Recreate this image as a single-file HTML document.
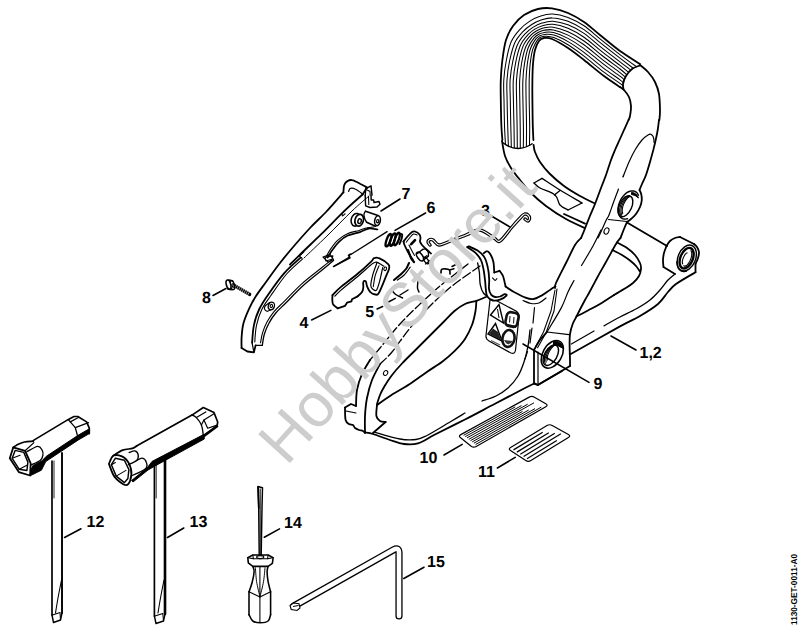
<!DOCTYPE html>
<html><head><meta charset="utf-8"><title>Parts diagram</title>
<style>
html,body{margin:0;padding:0;background:#fff;}
body{width:800px;height:630px;overflow:hidden;font-family:"Liberation Sans",sans-serif;}
svg{display:block;}
svg text{font-family:"Liberation Sans",sans-serif;fill:#000;text-rendering:geometricPrecision;}
</style></head><body>
<svg width="800" height="630" viewBox="0 0 800 630">
<rect x="0" y="0" width="800" height="630" fill="#fff"/>
<path d="M 502.4 140.0 C 502.2 137.7 501.7 132.7 501.4 126.0 C 501.1 119.3 500.9 107.7 500.8 100.0 C 500.7 92.3 500.5 86.7 500.8 80.0 C 501.1 73.3 501.5 66.7 502.4 60.0 C 503.3 53.3 504.2 45.7 506.0 40.0 C 507.8 34.3 510.0 30.2 513.0 26.0 C 516.0 21.8 519.8 17.8 524.0 15.0 C 528.2 12.2 533.3 10.1 538.0 9.0 C 542.7 7.9 547.0 7.7 552.0 8.4 C 557.0 9.1 562.7 10.7 568.0 13.0 C 573.3 15.3 578.7 18.3 584.0 22.0 C 589.3 25.7 594.0 30.2 600.0 35.0 C 606.0 39.8 613.3 46.2 620.0 51.0 C 626.7 55.8 636.7 61.8 640.0 64.0" fill="none" stroke="#000" stroke-width="1.8" stroke-linecap="round" stroke-linejoin="round" />
<path d="M 640.0 65.0 C 641.3 66.2 645.5 69.2 648.0 72.0 C 650.5 74.8 653.2 78.3 655.0 82.0 C 656.8 85.7 658.2 89.3 659.0 94.0 C 659.8 98.7 659.9 105.7 660.0 110.0 C 660.1 114.3 659.5 118.3 659.4 120.0" fill="none" stroke="#000" stroke-width="1.8" stroke-linecap="round" stroke-linejoin="round" />
<path d="M 533.4 140.0 C 533.3 137.7 533.0 132.7 532.8 126.0 C 532.6 119.3 532.5 107.7 532.4 100.0 C 532.3 92.3 532.3 86.0 532.4 80.0 C 532.5 74.0 532.6 69.0 533.0 64.0 C 533.4 59.0 534.0 53.8 535.0 50.0 C 536.0 46.2 537.5 43.0 539.0 41.0 C 540.5 39.0 541.8 38.3 544.0 38.0 C 546.2 37.7 548.0 37.3 552.0 39.0 C 556.0 40.7 562.7 44.5 568.0 48.0 C 573.3 51.5 578.0 55.3 584.0 60.0 C 590.0 64.7 598.0 71.5 604.0 76.0 C 610.0 80.5 617.3 85.2 620.0 87.0" fill="none" stroke="#000" stroke-width="1.8" stroke-linecap="round" stroke-linejoin="round" />
<path d="M 620.0 87.0 C 620.7 87.5 622.5 88.3 624.0 90.0 C 625.5 91.7 627.8 94.3 629.0 97.0 C 630.2 99.7 630.8 102.8 631.0 106.0 C 631.2 109.2 630.4 113.7 630.0 116.0 C 629.6 118.3 628.8 119.3 628.6 120.0" fill="none" stroke="#000" stroke-width="1.8" stroke-linecap="round" stroke-linejoin="round" />
<path d="M 640.0 65.4 C 638.7 66.0 634.3 67.2 632.0 69.0 C 629.7 70.8 627.5 73.5 626.0 76.0 C 624.5 78.5 623.4 81.7 623.0 84.0 C 622.6 86.3 623.5 88.7 623.6 89.6" fill="none" stroke="#000" stroke-width="1.8" stroke-linecap="round" stroke-linejoin="round" />
<path d="M 502.6 142.5 Q 517 154 532.6 143.5" fill="none" stroke="#000" stroke-width="1.5"/>
<path d="M 505.5 144.6 C 505.3 141.5 504.8 133.4 504.5 126.0 C 504.3 118.6 504.1 107.7 504.0 100.0 C 503.8 92.3 503.4 86.6 503.8 80.0 C 504.2 73.4 505.0 66.9 506.3 60.5 C 507.5 54.1 508.9 46.9 511.2 41.8 C 513.4 36.7 516.5 33.1 519.5 29.8 C 522.5 26.4 525.7 23.8 529.1 21.6 C 532.5 19.3 536.1 17.5 540.0 16.3 C 543.9 15.0 547.7 13.8 552.4 14.0 C 557.0 14.2 562.7 15.4 568.0 17.4 C 573.3 19.4 578.6 22.2 584.0 25.8 C 589.4 29.4 594.4 34.3 600.4 39.1 C 606.4 43.9 614.0 50.0 620.0 54.6 C 626.0 59.2 633.8 64.8 636.6 66.8" fill="none" stroke="#000" stroke-width="1.05"/>
<path d="M 508.4 146.2 C 508.3 142.9 507.9 133.7 507.7 126.0 C 507.5 118.3 507.2 107.7 507.1 100.0 C 507.0 92.3 506.5 86.5 507.0 80.0 C 507.4 73.5 508.3 67.1 509.6 60.9 C 510.9 54.8 512.5 47.9 514.7 43.0 C 516.9 38.1 520.1 34.8 522.9 31.7 C 525.7 28.7 528.4 26.6 531.4 24.7 C 534.5 22.7 537.5 21.2 541.0 20.0 C 544.6 18.9 548.1 17.7 552.6 17.9 C 557.1 18.0 562.8 19.3 568.0 21.2 C 573.2 23.2 578.5 25.9 584.0 29.6 C 589.5 33.3 594.8 38.4 600.8 43.2 C 606.8 48.0 614.5 54.0 620.0 58.2 C 625.5 62.4 631.3 66.8 633.6 68.5" fill="none" stroke="#000" stroke-width="1.05"/>
<path d="M 511.3 147.4 C 511.3 143.8 511.0 133.9 510.8 126.0 C 510.6 118.1 510.4 107.7 510.3 100.0 C 510.2 92.3 509.7 86.4 510.1 80.0 C 510.6 73.6 511.5 67.3 512.8 61.4 C 514.0 55.4 515.6 48.7 517.8 44.1 C 519.9 39.4 523.0 36.1 525.6 33.3 C 528.2 30.5 530.6 28.8 533.3 27.1 C 536.0 25.4 538.6 24.1 541.9 23.1 C 545.1 22.1 548.5 20.9 552.8 21.2 C 557.2 21.5 562.8 22.8 568.0 24.8 C 573.2 26.9 578.5 29.7 584.0 33.4 C 589.5 37.1 595.2 42.6 601.2 47.3 C 607.2 52.0 615.0 58.0 620.0 61.8 C 625.0 65.6 629.1 68.9 631.0 70.3" fill="none" stroke="#000" stroke-width="1.05"/>
<path d="M 514.3 148.2 C 514.3 144.5 514.1 134.0 514.0 126.0 C 513.8 118.0 513.5 107.7 513.4 100.0 C 513.3 92.3 512.9 86.4 513.3 80.0 C 513.7 73.6 514.6 67.6 515.8 61.8 C 517.0 55.9 518.6 49.5 520.6 45.0 C 522.6 40.5 525.6 37.3 528.0 34.7 C 530.4 32.0 532.4 30.6 534.9 29.1 C 537.3 27.6 539.6 26.5 542.6 25.7 C 545.6 24.9 548.8 23.9 553.0 24.3 C 557.2 24.7 562.8 26.2 568.0 28.3 C 573.2 30.5 578.4 33.4 584.0 37.2 C 589.6 41.0 595.6 46.7 601.6 51.4 C 607.6 56.1 615.5 61.9 620.0 65.4 C 624.5 68.9 627.3 71.3 628.7 72.4" fill="none" stroke="#000" stroke-width="1.05"/>
<path d="M 517.3 148.5 C 517.3 144.8 517.2 134.1 517.1 126.0 C 517.0 117.9 516.7 107.7 516.6 100.0 C 516.5 92.3 516.1 86.3 516.5 80.0 C 516.9 73.7 517.7 67.8 518.8 62.1 C 519.9 56.5 521.4 50.3 523.2 45.9 C 525.1 41.6 528.0 38.4 530.2 35.9 C 532.3 33.4 534.1 32.3 536.3 31.0 C 538.5 29.7 540.5 28.8 543.3 28.1 C 546.1 27.5 549.1 26.6 553.2 27.2 C 557.3 27.8 562.9 29.5 568.0 31.8 C 573.1 34.1 578.3 37.0 584.0 41.0 C 589.7 45.0 596.0 50.8 602.0 55.5 C 608.0 60.2 615.9 65.8 620.0 69.0 C 624.1 72.2 625.8 73.8 626.9 74.8" fill="none" stroke="#000" stroke-width="1.05"/>
<path d="M 520.3 148.4 C 520.3 144.7 520.3 134.1 520.2 126.0 C 520.1 117.9 519.9 107.7 519.8 100.0 C 519.7 92.3 519.4 86.2 519.7 80.0 C 520.0 73.8 520.7 68.1 521.7 62.5 C 522.7 57.0 524.0 51.1 525.8 46.8 C 527.5 42.6 530.2 39.4 532.1 37.0 C 534.1 34.7 535.6 33.8 537.6 32.7 C 539.5 31.6 541.3 30.8 543.9 30.3 C 546.5 29.9 549.3 29.2 553.4 29.9 C 557.4 30.7 562.9 32.6 568.0 35.1 C 573.1 37.6 578.3 40.7 584.0 44.8 C 589.7 48.9 596.4 55.0 602.4 59.6 C 608.4 64.2 616.2 69.7 620.0 72.6 C 623.8 75.5 624.5 76.5 625.5 77.3" fill="none" stroke="#000" stroke-width="1.05"/>
<path d="M 523.3 147.8 C 523.4 144.2 523.5 134.0 523.4 126.0 C 523.3 118.0 523.0 107.7 522.9 100.0 C 522.8 92.3 522.6 86.2 522.9 80.0 C 523.1 73.8 523.7 68.3 524.6 62.9 C 525.5 57.5 526.6 51.8 528.2 47.7 C 529.8 43.5 532.2 40.3 534.0 38.1 C 535.8 35.9 537.0 35.2 538.8 34.2 C 540.5 33.3 542.0 32.7 544.5 32.4 C 546.9 32.1 549.6 31.6 553.5 32.6 C 557.5 33.6 562.9 35.7 568.0 38.4 C 573.1 41.1 578.2 44.4 584.0 48.6 C 589.8 52.8 596.8 59.1 602.8 63.7 C 608.8 68.3 616.4 73.5 620.0 76.2 C 623.6 78.9 623.7 79.4 624.4 80.0" fill="none" stroke="#000" stroke-width="1.05"/>
<path d="M 526.4 146.8 C 526.4 143.3 526.6 133.8 526.5 126.0 C 526.5 118.2 526.2 107.7 526.1 100.0 C 526.0 92.3 525.8 86.1 526.0 80.0 C 526.3 73.9 526.7 68.5 527.4 63.3 C 528.2 58.0 529.1 52.5 530.5 48.5 C 531.9 44.4 534.2 41.2 535.7 39.1 C 537.3 37.0 538.4 36.5 539.9 35.7 C 541.5 34.9 542.7 34.5 545.0 34.4 C 547.3 34.3 549.9 33.9 553.7 35.1 C 557.5 36.3 562.9 38.8 568.0 41.6 C 573.1 44.5 578.1 48.0 584.0 52.4 C 589.9 56.8 597.2 63.2 603.2 67.8 C 609.2 72.4 616.6 77.3 620.0 79.8 C 623.4 82.3 623.1 82.5 623.7 83.0" fill="none" stroke="#000" stroke-width="1.05"/>
<path d="M 529.5 145.4 C 529.5 142.2 529.7 133.6 529.7 126.0 C 529.6 118.4 529.3 107.7 529.2 100.0 C 529.2 92.3 529.1 86.1 529.2 80.0 C 529.4 73.9 529.6 68.8 530.2 63.6 C 530.8 58.5 531.6 53.2 532.8 49.2 C 534.0 45.3 536.0 42.1 537.4 40.1 C 538.8 38.1 539.6 37.7 541.0 37.1 C 542.3 36.4 543.4 36.1 545.5 36.2 C 547.7 36.3 550.1 36.2 553.8 37.6 C 557.6 39.0 563.0 41.7 568.0 44.8 C 573.0 47.9 578.1 51.7 584.0 56.2 C 589.9 60.7 597.6 67.4 603.6 71.9 C 609.6 76.4 616.7 81.0 620.0 83.4 C 623.3 85.8 622.9 85.7 623.5 86.2" fill="none" stroke="#000" stroke-width="1.05"/>
<path d="M 502.0 141.0 C 502.5 143.5 503.5 151.5 505.0 156.0 C 506.5 160.5 508.5 164.0 511.0 168.0 C 513.5 172.0 516.8 176.0 520.0 180.0 C 523.2 184.0 525.7 187.7 530.0 192.0 C 534.3 196.3 540.0 201.5 546.0 206.0 C 552.0 210.5 558.8 215.0 566.0 219.0 C 573.2 223.0 585.2 228.2 589.0 230.0" fill="none" stroke="#000" stroke-width="1.8" stroke-linecap="round" stroke-linejoin="round" />
<path d="M 533.6 145.0 C 533.8 146.2 533.9 149.2 535.0 152.0 C 536.1 154.8 537.5 158.3 540.0 162.0 C 542.5 165.7 546.0 170.0 550.0 174.0 C 554.0 178.0 559.0 182.3 564.0 186.0 C 569.0 189.7 574.3 192.8 580.0 196.0 C 585.7 199.2 595.0 203.5 598.0 205.0" fill="none" stroke="#000" stroke-width="1.8" stroke-linecap="round" stroke-linejoin="round" />
<path d="M 564.0 214.0 C 567.5 215.6 581.5 222.0 585.0 223.6" fill="none" stroke="#000" stroke-width="1.8" stroke-linecap="round" stroke-linejoin="round" />
<path d="M 542.0 178.4 C 545.0 180.3 553.3 185.9 560.0 190.0 C 566.7 194.1 578.3 200.8 582.0 203.0" fill="none" stroke="#000" stroke-width="1.32" stroke-linecap="round" stroke-linejoin="round" />
<path d="M 582.0 203.0 L 568.0 210.0" fill="none" stroke="#000" stroke-width="1.32" stroke-linecap="round" stroke-linejoin="round" />
<path d="M 568.0 210.0 C 566.7 209.2 562.2 207.5 560.0 205.0 C 557.8 202.5 558.3 197.8 555.0 195.0 C 551.7 192.2 543.5 190.0 540.0 188.0 C 536.5 186.0 535.0 183.8 534.0 183.0" fill="none" stroke="#000" stroke-width="1.32" stroke-linecap="round" stroke-linejoin="round" />
<path d="M 534.0 183.0 L 542.0 178.4" fill="none" stroke="#000" stroke-width="1.32" stroke-linecap="round" stroke-linejoin="round" />
<path d="M 560.0 190.4 L 554.4 195.0" fill="none" stroke="#000" stroke-width="1.32" stroke-linecap="round" stroke-linejoin="round" />
<path d="M 615 150 L 611 160 L 606 175 L 601 188 L 595 204 L 589.5 217 L 584 231 L 581 238 L 575 245 L 566 263 L 606 262 L 616 244 L 620.5 238 L 624 229 L 627 222 L 640 205 L 640 190 L 645 175 L 651.5 150 Z" fill="#fff" stroke="none"/>
<path d="M 659.0 120.0 C 658.8 121.7 658.2 126.7 657.7 130.0 C 657.2 133.3 656.4 136.7 655.7 140.0 C 655.0 143.3 654.2 146.3 653.3 150.0 C 652.3 153.7 651.2 157.8 650.0 162.0 C 648.8 166.2 647.3 171.3 646.0 175.0 C 644.7 178.7 643.1 181.5 642.0 184.0 C 640.9 186.5 639.9 189.0 639.5 190.0" fill="none" stroke="#000" stroke-width="1.8" stroke-linecap="round" stroke-linejoin="round" />
<path d="M 628.5 120.0 C 627.8 121.7 625.5 126.7 624.0 130.0 C 622.5 133.3 621.0 136.7 619.5 140.0 C 618.0 143.3 616.4 146.7 615.0 150.0 C 613.6 153.3 612.5 155.8 611.0 160.0 C 609.5 164.2 607.7 170.3 606.0 175.0 C 604.3 179.7 602.8 183.2 601.0 188.0 C 599.2 192.8 596.9 199.2 595.0 204.0 C 593.1 208.8 591.3 212.5 589.5 217.0 C 587.7 221.5 585.4 227.5 584.0 231.0 C 582.6 234.5 581.5 236.8 581.0 238.0" fill="none" stroke="#000" stroke-width="1.8" stroke-linecap="round" stroke-linejoin="round" />
<path d="M 623.0 177.0 C 624.0 174.5 627.0 166.5 629.0 162.0 C 631.0 157.5 632.8 153.7 635.0 150.0 C 637.2 146.3 639.8 142.5 642.0 140.0 C 644.2 137.5 646.5 135.9 648.0 135.0 C 649.5 134.1 650.2 134.1 651.0 134.3 C 651.8 134.5 652.3 135.2 652.8 136.0 C 653.3 136.8 653.6 137.9 653.8 139.0 C 654.0 140.1 654.0 141.9 654.1 142.5" fill="none" stroke="#000" stroke-width="1.2" stroke-linecap="round" stroke-linejoin="round" />
<path d="M 639.5 190.0 C 639.8 190.7 640.8 192.3 641.2 194.0 C 641.6 195.7 642.0 197.8 641.8 200.0 C 641.6 202.2 641.0 204.7 640.0 207.0 C 639.0 209.3 637.5 212.0 636.0 214.0 C 634.5 216.0 632.5 217.7 631.0 219.0 C 629.5 220.3 627.7 221.5 627.0 222.0" fill="none" stroke="#000" stroke-width="1.8" stroke-linecap="round" stroke-linejoin="round" />
<path d="M 627.0 222.0 C 626.5 223.2 625.1 226.3 624.0 229.0 C 622.9 231.7 621.1 236.5 620.5 238.0" fill="none" stroke="#000" stroke-width="1.8" stroke-linecap="round" stroke-linejoin="round" />
<path d="M 618.5 189.0 C 617.8 191.0 615.6 196.7 614.0 201.0 C 612.4 205.3 610.2 211.9 609.0 215.0 C 607.8 218.1 607.3 217.8 606.5 219.5 C 605.7 221.2 605.1 222.6 604.0 225.0 C 602.9 227.4 601.0 231.8 600.0 234.0 C 599.0 236.2 598.3 237.3 598.0 238.0" fill="none" stroke="#000" stroke-width="1.2" stroke-linecap="round" stroke-linejoin="round" />
<path d="M 623.5 175.0 L 623.2 176.5" fill="none" stroke="#000" stroke-width="1.2" stroke-linecap="round" stroke-linejoin="round" />
<path d="M 608.5 219.5 L 627.0 221.5" fill="none" stroke="#000" stroke-width="1.2" stroke-linecap="round" stroke-linejoin="round" />
<path d="M 627.51 218.78 L 625.69 219.15 L 623.95 219.09 L 622.36 218.59 L 620.96 217.69 L 619.80 216.40 L 618.91 214.77 L 618.31 212.83 L 618.03 210.66 L 618.07 208.32 L 618.44 205.88 L 619.12 203.41 L 620.09 200.99 L 621.32 198.69 L 622.78 196.58 L 624.41 194.73 L 626.18 193.19 L 628.02 192.01 L 629.89 191.22 L 631.71 190.85 L 633.45 190.91 L 635.04 191.41 L 636.44 192.31 L 637.60 193.60 L 638.49 195.23" fill="none" stroke="#000" stroke-width="1.44" stroke-linecap="round"/>
<ellipse cx="625.5" cy="206.2" rx="6.2" ry="11.2" transform="rotate(25 625.5 206.2)" fill="none" stroke="#000" stroke-width="1.44"/>
<path d="M 621.36 215.74 L 620.88 215.21 L 620.48 214.58 L 620.15 213.84 L 619.90 213.01 L 619.74 212.10 L 619.66 211.13 L 619.67 210.09 L 619.77 209.01 L 619.95 207.89 L 620.22 206.75 L 620.57 205.61 L 620.99 204.47 L 621.49 203.36 L 622.05 202.28 L 622.67 201.24 L 623.34 200.27 L 624.05 199.36 L 624.80 198.54 L 625.58 197.80 L 626.37 197.17 L 627.17 196.64 L 627.97 196.23 L 628.76 195.94 L 629.53 195.77" fill="none" stroke="#000" stroke-width="1.08" stroke-linecap="round"/>
<path d="M 621.93 214.84 L 621.61 214.24 L 621.36 213.57 L 621.16 212.84 L 621.03 212.04 L 620.96 211.19 L 620.96 210.30 L 621.02 209.37 L 621.15 208.41 L 621.35 207.44 L 621.60 206.45 L 621.92 205.46 L 622.29 204.47 L 622.72 203.51 L 623.19 202.56 L 623.71 201.65 L 624.27 200.78 L 624.87 199.96 L 625.50 199.19 L 626.16 198.48 L 626.83 197.85 L 627.51 197.29 L 628.21 196.81 L 628.90 196.41 L 629.59 196.10" fill="none" stroke="#000" stroke-width="1.08" stroke-linecap="round"/>
<path d="M 622.69 213.48 L 622.51 212.87 L 622.38 212.22 L 622.30 211.52 L 622.26 210.79 L 622.26 210.03 L 622.32 209.24 L 622.42 208.44 L 622.57 207.61 L 622.76 206.78 L 622.99 205.94 L 623.27 205.11 L 623.59 204.27 L 623.95 203.45 L 624.34 202.65 L 624.77 201.87 L 625.22 201.11 L 625.71 200.38 L 626.22 199.69 L 626.75 199.05 L 627.30 198.44 L 627.87 197.88 L 628.44 197.38 L 629.03 196.93 L 629.61 196.54" fill="none" stroke="#000" stroke-width="1.08" stroke-linecap="round"/>
<path d="M 631.5 192.5 Q 636.5 192.5 638.5 198 Q 635 194.5 631.5 194.5 Z" fill="#000" stroke="#000" stroke-width="1"/>
<ellipse cx="606.5" cy="231" rx="2.3" ry="3.3" transform="rotate(25 606.5 231)" fill="none" stroke="#000" stroke-width="1"/>
<path d="M 468.0 264.0 C 463.3 267.7 448.0 279.3 440.0 286.0 C 432.0 292.7 426.7 297.7 420.0 304.0 C 413.3 310.3 406.7 316.7 400.0 324.0 C 393.3 331.3 385.0 342.0 380.0 348.0 C 375.0 354.0 371.7 358.0 370.0 360.0" fill="none" stroke="#000" stroke-width="1.32" stroke-linecap="round" stroke-linejoin="round" stroke-dasharray="9 3"/>
<path d="M 370.0 360.0 C 368.7 362.3 364.2 369.0 362.0 374.0 C 359.8 379.0 358.0 384.7 357.0 390.0 C 356.0 395.3 356.2 403.3 356.0 406.0" fill="none" stroke="#000" stroke-width="1.8" stroke-linecap="round" stroke-linejoin="round" />
<path d="M 480.0 266.0 C 475.3 269.3 460.3 279.3 452.0 286.0 C 443.7 292.7 437.0 299.0 430.0 306.0 C 423.0 313.0 416.3 320.3 410.0 328.0 C 403.7 335.7 397.0 346.0 392.0 352.0 C 387.0 358.0 382.0 362.0 380.0 364.0" fill="none" stroke="#000" stroke-width="1.32" stroke-linecap="round" stroke-linejoin="round" stroke-dasharray="9 3"/>
<path d="M 380.0 364.0 C 378.7 366.7 374.2 374.3 372.0 380.0 C 369.8 385.7 368.2 392.0 367.0 398.0 C 365.8 404.0 365.3 410.3 365.0 416.0 C 364.7 421.7 365.0 429.3 365.0 432.0" fill="none" stroke="#000" stroke-width="1.8" stroke-linecap="round" stroke-linejoin="round" />
<path d="M 486.0 297.0 C 484.4 297.6 479.9 299.6 476.4 300.8 C 472.9 302.0 468.6 302.3 465.0 304.0 C 461.4 305.7 458.0 308.1 454.5 311.0 C 451.0 313.9 448.1 317.4 444.0 321.5 C 439.9 325.6 434.7 330.8 430.0 335.5 C 425.3 340.2 420.7 344.8 416.0 349.5 C 411.3 354.2 406.1 359.1 402.0 363.5 C 397.9 367.9 394.4 371.9 391.5 375.7 C 388.6 379.5 386.4 383.0 384.5 386.2 C 382.6 389.4 381.2 392.0 380.0 395.0 C 378.8 398.0 377.5 402.5 377.0 404.0" fill="none" stroke="#000" stroke-width="1.8" stroke-linecap="round" stroke-linejoin="round" />
<path d="M 476.4 300.8 C 476.2 302.5 476.2 307.0 475.5 311.0 C 474.8 315.0 473.8 320.3 472.0 325.0 C 470.2 329.7 467.9 334.6 465.0 339.0 C 462.1 343.4 458.3 347.4 454.5 351.2 C 450.7 355.0 446.9 358.2 442.2 361.7 C 437.5 365.2 432.0 368.4 426.5 372.2 C 421.0 376.0 414.8 380.7 409.0 384.5 C 403.2 388.3 396.8 391.6 391.5 395.0 C 386.2 398.4 379.4 403.3 377.0 405.0" fill="none" stroke="#000" stroke-width="1.8" stroke-linecap="round" stroke-linejoin="round" />
<path d="M 377.0 405.0 C 376.9 406.8 375.9 413.3 376.4 416.0 C 376.9 418.7 378.5 420.0 380.0 421.0 C 381.5 422.0 384.7 421.8 385.6 422.0" fill="none" stroke="#000" stroke-width="1.8" stroke-linecap="round" stroke-linejoin="round" />
<path d="M 385.6 422.0 L 373.0 433.0" fill="none" stroke="#000" stroke-width="1.8" stroke-linecap="round" stroke-linejoin="round" />
<path d="M 365.0 432.4 C 366.3 432.7 368.8 432.7 373.0 434.0 C 377.2 435.3 384.8 438.3 390.0 440.0 C 395.2 441.7 399.3 443.4 404.0 444.0 C 408.7 444.6 412.8 444.9 418.0 443.3 C 423.2 441.7 427.2 438.5 435.0 434.5 C 442.8 430.5 455.0 424.6 465.0 419.5 C 475.0 414.4 485.0 409.0 495.0 403.8 C 505.0 398.5 518.5 391.4 525.0 388.0 C 531.5 384.6 532.5 384.3 534.0 383.6" fill="none" stroke="#000" stroke-width="1.8" stroke-linecap="round" stroke-linejoin="round" />
<path d="M 534.0 383.6 L 537.6 385.0 L 562.0 371.0" fill="none" stroke="#000" stroke-width="1.8" stroke-linecap="round" stroke-linejoin="round" />
<path d="M 375.0 432.4 C 379.2 433.5 393.2 437.8 400.0 439.0 C 406.8 440.2 411.7 440.0 416.0 439.5 C 420.3 439.0 420.3 438.9 426.0 436.0 C 431.7 433.1 443.5 425.8 450.0 422.0 C 456.5 418.2 462.5 414.5 465.0 413.0" fill="none" stroke="#000" stroke-width="1.32" stroke-linecap="round" stroke-linejoin="round" />
<path d="M 482.0 401.0 C 484.3 400.2 491.7 398.2 496.0 396.0 C 500.3 393.8 504.3 391.3 508.0 388.0 C 511.7 384.7 515.3 380.3 518.0 376.0 C 520.7 371.7 522.3 367.0 524.0 362.0 C 525.7 357.0 527.0 351.3 528.0 346.0 C 529.0 340.7 529.7 332.7 530.0 330.0" fill="none" stroke="#000" stroke-width="1.32" stroke-linecap="round" stroke-linejoin="round" />
<path d="M 345.0 407.6 L 351.0 404.0 L 356.0 406.0" fill="none" stroke="#000" stroke-width="1.8" stroke-linecap="round" stroke-linejoin="round" />
<path d="M 346.0 411.0 L 356.0 413.0" fill="none" stroke="#000" stroke-width="1.2" stroke-linecap="round" stroke-linejoin="round" />
<path d="M 345.0 407.6 C 345.1 409.7 344.9 417.3 345.6 420.0 C 346.3 422.7 347.8 423.2 349.0 424.0 C 350.2 424.8 352.0 424.3 353.0 425.0 C 354.0 425.7 354.0 427.2 355.0 428.0 C 356.0 428.8 357.7 429.5 359.0 430.0 C 360.3 430.5 362.0 430.5 363.0 431.0 C 364.0 431.5 364.7 432.7 365.0 433.0" fill="none" stroke="#000" stroke-width="1.8" stroke-linecap="round" stroke-linejoin="round" />
<ellipse cx="385.6" cy="373" rx="2" ry="2.6" transform="rotate(30 385.6 373)" fill="none" stroke="#000" stroke-width="1"/>
<path d="M 483.8 253.3 C 484.3 252.9 486.1 250.9 487.3 251.2 C 488.4 251.4 489.7 253.2 490.8 255.0 C 491.8 256.8 492.8 259.1 493.4 262.0 C 494.0 264.9 494.1 270.8 494.3 272.5" fill="none" stroke="#000" stroke-width="1.8" stroke-linecap="round" stroke-linejoin="round" />
<path d="M 494.3 272.5 L 499.5 270.8" fill="none" stroke="#000" stroke-width="1.8" stroke-linecap="round" stroke-linejoin="round" />
<path d="M 499.5 270.8 C 500.1 271.6 502.1 274.0 503.0 276.0 C 503.9 278.0 504.3 281.3 504.8 283.0 C 505.2 284.8 505.5 285.9 505.6 286.5" fill="none" stroke="#000" stroke-width="1.8" stroke-linecap="round" stroke-linejoin="round" />
<path d="M 505.6 286.5 C 506.9 287.4 510.4 290.0 513.5 291.8 C 516.6 293.5 520.8 295.8 524.0 297.0 C 527.2 298.2 529.8 299.3 532.8 299.1 C 535.7 298.9 538.6 297.2 541.5 295.6 C 544.4 294.0 547.9 291.2 550.3 289.7 C 552.6 288.1 554.6 287.0 555.5 286.5" fill="none" stroke="#000" stroke-width="1.8" stroke-linecap="round" stroke-linejoin="round" />
<path d="M 523.0 300.5 C 524.3 301.0 528.3 303.1 531.0 303.5 C 533.7 303.9 536.5 303.9 539.0 303.0 C 541.5 302.1 544.8 298.8 546.0 298.0" fill="none" stroke="#000" stroke-width="1.2" stroke-linecap="round" stroke-linejoin="round" />
<path d="M 477.6 262.9 C 477.9 264.5 478.9 268.9 479.4 272.5 C 479.8 276.1 479.5 281.3 480.3 284.8 C 481.0 288.3 482.3 291.5 483.8 293.5 C 485.2 295.5 488.1 296.4 489.0 297.0" fill="none" stroke="#000" stroke-width="1.32" stroke-linecap="round" stroke-linejoin="round" />
<path d="M 492.5 277.8 C 492.9 278.2 494.4 280.2 495.1 280.4 C 495.9 280.5 496.6 278.9 496.9 278.6" fill="none" stroke="#000" stroke-width="1.08" stroke-linecap="round" stroke-linejoin="round" />
<path d="M 557.0 289.0 L 554.0 311.0 L 546.0 332.7 L 537.6 347.8" fill="none" stroke="#000" stroke-width="1.08" stroke-linecap="round" stroke-linejoin="round" />
<path d="M 555.0 290.0 L 551.0 311.0 L 543.5 332.0 L 535.7 346.5" fill="none" stroke="#000" stroke-width="1.08" stroke-linecap="round" stroke-linejoin="round" />
<path d="M 601.0 230.0 C 599.7 232.7 596.2 240.1 593.0 246.0 C 589.8 251.9 583.4 262.2 581.5 265.5" fill="none" stroke="#000" stroke-width="1.2" stroke-linecap="round" stroke-linejoin="round" />
<path d="M 574.0 280.5 C 573.0 282.4 570.1 287.5 568.0 292.0 C 565.9 296.5 564.9 300.9 561.4 307.6 C 557.9 314.3 549.4 327.9 547.0 332.0" fill="none" stroke="#000" stroke-width="1.2" stroke-linecap="round" stroke-linejoin="round" />
<path d="M 581.0 238.0 C 580.0 239.2 577.5 240.8 575.0 245.0 C 572.5 249.2 569.2 256.7 566.0 263.0 C 562.8 269.3 557.8 278.8 556.0 283.0 C 554.2 287.2 555.2 287.2 555.0 288.0" fill="none" stroke="#000" stroke-width="1.8" stroke-linecap="round" stroke-linejoin="round" />
<path d="M 620.5 238.0 C 619.8 239.0 618.4 240.0 616.0 244.0 C 613.6 248.0 609.2 256.3 606.0 262.0 C 602.8 267.7 599.8 272.8 597.0 278.0 C 594.2 283.2 591.0 289.3 589.0 293.0 C 587.0 296.7 587.1 296.1 585.0 300.0 C 582.9 303.9 578.5 312.4 576.5 316.4 C 574.5 320.4 573.8 321.1 572.7 324.0 C 571.6 326.9 570.5 330.5 570.0 334.0 C 569.5 337.5 569.6 340.8 569.6 345.0 C 569.6 349.2 569.9 355.5 570.0 359.0 C 570.1 362.5 570.0 364.8 570.0 366.0" fill="none" stroke="#000" stroke-width="1.8" stroke-linecap="round" stroke-linejoin="round" />
<path d="M 547.0 332.0 L 569.0 334.6" fill="none" stroke="#000" stroke-width="1.2" stroke-linecap="round" stroke-linejoin="round" />
<path d="M 547.0 332.0 C 545.8 333.3 542.2 337.0 540.0 340.0 C 537.8 343.0 535.0 348.3 534.0 350.0" fill="none" stroke="#000" stroke-width="1.8" stroke-linecap="round" stroke-linejoin="round" />
<path d="M 534.0 350.0 L 534.0 383.0 L 538.0 385.0 L 570.0 366.0" fill="none" stroke="#000" stroke-width="1.8" stroke-linecap="round" stroke-linejoin="round" />
<path d="M 538.0 352.0 L 538.0 385.0" fill="none" stroke="#000" stroke-width="1.2" stroke-linecap="round" stroke-linejoin="round" />
<ellipse cx="552.3" cy="354.3" rx="9.5" ry="15.0" transform="rotate(30 552.3 354.3)" fill="none" stroke="#000" stroke-width="1.56"/>
<ellipse cx="550.8" cy="355.2" rx="6.2" ry="11.2" transform="rotate(30 550.8 355.2)" fill="none" stroke="#000" stroke-width="1.44"/>
<path d="M 545.40 363.37 L 545.05 362.74 L 544.77 362.02 L 544.58 361.23 L 544.47 360.36 L 544.44 359.43 L 544.51 358.45 L 544.66 357.43 L 544.89 356.38 L 545.20 355.32 L 545.59 354.24 L 546.06 353.18 L 546.59 352.13 L 547.19 351.11 L 547.84 350.13 L 548.54 349.20 L 549.28 348.34 L 550.05 347.55 L 550.85 346.83 L 551.66 346.21 L 552.48 345.68 L 553.29 345.26 L 554.09 344.94 L 554.87 344.72 L 555.63 344.63" fill="none" stroke="#000" stroke-width="1.08" stroke-linecap="round"/>
<path d="M 546.26 361.88 L 546.06 361.22 L 545.92 360.51 L 545.85 359.74 L 545.85 358.93 L 545.90 358.09 L 546.02 357.21 L 546.21 356.31 L 546.45 355.40 L 546.75 354.47 L 547.11 353.55 L 547.53 352.63 L 547.99 351.73 L 548.50 350.85 L 549.05 349.99 L 549.64 349.18 L 550.26 348.41 L 550.91 347.68 L 551.59 347.02 L 552.27 346.41 L 552.97 345.87 L 553.68 345.40 L 554.38 345.01 L 555.08 344.69 L 555.77 344.45" fill="none" stroke="#000" stroke-width="1.08" stroke-linecap="round"/>
<path d="M 547.33 360.17 L 547.26 359.53 L 547.24 358.86 L 547.26 358.17 L 547.33 357.45 L 547.44 356.70 L 547.60 355.95 L 547.80 355.18 L 548.04 354.40 L 548.32 353.63 L 548.64 352.85 L 549.00 352.08 L 549.39 351.33 L 549.82 350.58 L 550.27 349.86 L 550.76 349.16 L 551.26 348.50 L 551.79 347.86 L 552.34 347.26 L 552.90 346.69 L 553.48 346.17 L 554.07 345.70 L 554.66 345.27 L 555.25 344.90 L 555.84 344.58" fill="none" stroke="#000" stroke-width="1.08" stroke-linecap="round"/>
<path d="M 553.5 341.3 Q 561 340.3 563.3 348.5 Q 558.5 345.2 553.5 345 Z" fill="#000" stroke="#000" stroke-width="1"/>
<path d="M 534.5 307.5 L 533.0 323.0" fill="none" stroke="#000" stroke-width="1.2" stroke-linecap="round" stroke-linejoin="round" />
<path d="M 532.0 328.0 L 530.0 343.0" fill="none" stroke="#000" stroke-width="1.2" stroke-linecap="round" stroke-linejoin="round" />
<path d="M 527.5 351.5 L 525.0 359.0" fill="none" stroke="#000" stroke-width="1.2" stroke-linecap="round" stroke-linejoin="round" />
<path d="M 492.5 298.5 L 516 311 Q 519.5 313.5 519 317 L 515.5 350 Q 515 354.5 511 353 L 489 341 Q 485.5 339 486 335.5 L 490 300 Q 490.5 297.5 492.5 298.5 Z" fill="#fff" stroke="#000" stroke-width="1.2"/>
<path d="M 490.5 315 L 499 304.5 L 503.5 323 Z" fill="none" stroke="#000" stroke-width="1.4"/>
<path d="M 497.5 309 L 499 318" stroke="#000" stroke-width="1"/>
<path d="M 488 334 L 495.5 323.5 L 502 341 Z" fill="none" stroke="#000" stroke-width="1.4"/>
<path d="M 489 334 L 493 328.5 L 498 332 L 501 340 Z" fill="#222" stroke="none"/>
<rect x="506" y="312.5" width="12" height="14" rx="4" transform="rotate(12 512 319.5)" fill="#fff" stroke="#111" stroke-width="2.6"/>
<path d="M 510 316 L 509.5 322.5 M 514 317 L 513.5 323.5" stroke="#222" stroke-width="1.1"/>
<path d="M 505.5 323.5 L 516.5 326 L 516 328 L 506 325.8 Z" fill="#111"/>
<ellipse cx="508.5" cy="338.5" rx="6" ry="8.5" transform="rotate(10 508.5 338.5)" fill="#fff" stroke="#111" stroke-width="2.6"/>
<path d="M 504 340 Q 508 348 513 341 Z" fill="#333"/>
<path d="M 491 340.5 L 500 345" stroke="#555" stroke-width="1.2"/>
<path d="M 467.1 247.1 C 468.4 248.0 472.7 250.2 475.0 252.4 C 477.3 254.6 479.7 257.2 481.1 260.3 C 482.6 263.3 483.1 267.2 483.8 270.8 C 484.4 274.3 484.8 278.4 485.2 281.6 C 485.5 284.8 485.5 287.5 485.9 290.0 C 486.2 292.5 486.1 294.7 487.3 296.5 C 488.4 298.2 490.9 300.0 493.0 300.5 C 495.2 301.0 497.8 300.4 500.0 299.6 C 502.3 298.8 505.7 296.5 506.5 295.6 C 507.3 294.7 505.8 294.1 504.8 294.2 C 503.7 294.3 501.7 296.0 500.0 296.5 C 498.4 296.9 496.4 297.3 495.0 297.0 C 493.5 296.7 492.1 295.9 491.1 294.6 C 490.1 293.2 489.3 291.6 489.0 289.1 C 488.7 286.7 489.3 283.2 489.2 279.9 C 489.0 276.5 488.9 272.7 488.1 269.0 C 487.4 265.3 486.4 260.7 484.6 257.6 C 482.9 254.6 480.3 252.5 477.6 250.6 C 475.0 248.7 470.3 247.0 468.9 246.3 Z" fill="#fff" stroke="#000" stroke-width="1.8" stroke-linecap="round" stroke-linejoin="round" />
<path d="M 523.0 344.0 L 589.0 382.4" fill="none" stroke="#000" stroke-width="1.56" stroke-linecap="round" stroke-linejoin="round" />
<text x="593.5" y="388.5" font-size="16" font-weight="bold" >9</text>
<path d="M 617.0 242.5 C 618.7 243.4 624.0 245.9 627.0 248.0 C 630.0 250.1 632.8 252.5 635.0 255.0 C 637.2 257.5 639.0 260.7 640.0 263.0 C 641.0 265.3 641.2 266.8 641.0 269.0 C 640.8 271.2 640.3 273.7 639.0 276.0 C 637.7 278.3 635.5 280.8 633.0 283.0 C 630.5 285.2 627.2 287.0 624.0 289.0 C 620.8 291.0 615.7 294.0 614.0 295.0" fill="none" stroke="#000" stroke-width="1.8" stroke-linecap="round" stroke-linejoin="round" />
<path d="M 614.0 295.0 C 611.7 296.5 604.3 301.4 600.0 304.0 C 595.7 306.6 591.9 308.4 588.0 310.5 C 584.1 312.6 578.4 315.4 576.5 316.4" fill="none" stroke="#000" stroke-width="1.8" stroke-linecap="round" stroke-linejoin="round" />
<path d="M 612.5 250.0 C 614.1 250.8 619.1 253.2 622.0 255.0 C 624.9 256.8 627.7 258.7 630.0 260.5 C 632.3 262.3 634.4 264.2 636.0 266.0 C 637.6 267.8 639.1 270.3 639.7 271.2" fill="none" stroke="#000" stroke-width="1.8" stroke-linecap="round" stroke-linejoin="round" />
<path d="M 627.0 222.5 L 667.0 246.0" fill="none" stroke="#000" stroke-width="1.8" stroke-linecap="round" stroke-linejoin="round" />
<path d="M 666.5 246.0 C 667.1 245.2 668.6 242.3 670.0 241.0 C 671.4 239.7 673.3 238.7 675.0 238.0 C 676.7 237.3 679.2 237.2 680.0 237.0" fill="none" stroke="#000" stroke-width="1.8" stroke-linecap="round" stroke-linejoin="round" />
<path d="M 680.0 237.0 L 694.0 244.0" fill="none" stroke="#000" stroke-width="1.8" stroke-linecap="round" stroke-linejoin="round" />
<path d="M 694.0 244.0 C 694.5 244.5 696.2 245.7 697.0 247.0 C 697.8 248.3 698.8 250.2 699.0 252.0 C 699.2 253.8 698.6 256.0 698.0 258.0 C 697.4 260.0 695.9 263.0 695.5 264.0" fill="none" stroke="#000" stroke-width="1.8" stroke-linecap="round" stroke-linejoin="round" />
<path d="M 695.5 264.0 L 695.5 272.2" fill="none" stroke="#000" stroke-width="1.8" stroke-linecap="round" stroke-linejoin="round" />
<path d="M 666.5 246.0 C 666.1 247.2 664.6 250.7 664.0 253.0 C 663.4 255.3 663.1 257.7 663.0 260.0 C 662.9 262.3 663.4 265.8 663.5 267.0" fill="none" stroke="#000" stroke-width="1.8" stroke-linecap="round" stroke-linejoin="round" />
<path d="M 663.5 267.0 L 675.0 274.0" fill="none" stroke="#000" stroke-width="1.8" stroke-linecap="round" stroke-linejoin="round" />
<ellipse cx="686.8" cy="258.0" rx="8.8" ry="13.5" transform="rotate(22 686.8 258.0)" fill="none" stroke="#000" stroke-width="1.44"/>
<ellipse cx="686.6" cy="258.2" rx="6.2" ry="10.8" transform="rotate(22 686.6 258.2)" fill="none" stroke="#000" stroke-width="2.4"/>
<path d="M 691.97 249.29 L 692.45 249.67 L 692.86 250.18 L 693.19 250.81 L 693.45 251.55 L 693.62 252.39 L 693.71 253.31 L 693.71 254.31 L 693.62 255.36 L 693.45 256.45 L 693.20 257.56 L 692.86 258.69 L 692.45 259.80 L 691.97 260.88 L 691.43 261.92 L 690.84 262.90 L 690.21 263.81 L 689.54 264.62 L 688.85 265.34 L 688.15 265.94 L 687.44 266.42 L 686.74 266.78 L 686.06 267.00 L 685.42 267.08 L 684.81 267.02" fill="none" stroke="#000" stroke-width="1.08" stroke-linecap="round"/>
<path d="M 690.88 250.76 L 691.20 251.16 L 691.45 251.68 L 691.63 252.30 L 691.75 253.01 L 691.79 253.81 L 691.75 254.68 L 691.64 255.61 L 691.46 256.58 L 691.21 257.57 L 690.90 258.58 L 690.53 259.58 L 690.10 260.55 L 689.62 261.49 L 689.11 262.38 L 688.57 263.20 L 688.00 263.93 L 687.42 264.58 L 686.84 265.12 L 686.26 265.55 L 685.70 265.86 L 685.16 266.04 L 684.65 266.10 L 684.19 266.04 L 683.77 265.84" fill="none" stroke="#000" stroke-width="1.08" stroke-linecap="round"/>
<path d="M 682.66 263.85 L 682.51 263.61 L 682.40 263.31 L 682.33 262.94 L 682.29 262.51 L 682.29 262.03 L 682.33 261.50 L 682.42 260.93 L 682.53 260.33 L 682.69 259.70 L 682.88 259.05 L 683.10 258.40 L 683.35 257.75 L 683.62 257.11 L 683.91 256.49 L 684.23 255.89 L 684.55 255.33 L 684.89 254.82 L 685.22 254.35 L 685.56 253.94 L 685.90 253.59 L 686.22 253.31 L 686.53 253.10 L 686.82 252.96 L 687.09 252.89" fill="none" stroke="#000" stroke-width="1.08" stroke-linecap="round"/>
<path d="M 686.52 271.16 L 685.87 271.37 L 685.22 271.51 L 684.58 271.60 L 683.94 271.63 L 683.32 271.60 L 682.71 271.52 L 682.12 271.38 L 681.56 271.18 L 681.01 270.93 L 680.49 270.62 L 679.99 270.26 L 679.53 269.85 L 679.09 269.38 L 678.69 268.87 L 678.32 268.32 L 677.99 267.72 L 677.70 267.08 L 677.45 266.40 L 677.23 265.69 L 677.06 264.94 L 676.93 264.17 L 676.84 263.37 L 676.79 262.55 L 676.79 261.71" fill="none" stroke="#000" stroke-width="1.2" stroke-linecap="round"/>
<path d="M 675.0 274.0 C 673.8 275.0 670.5 277.3 668.0 280.0 C 665.5 282.7 663.0 286.7 660.0 290.0 C 657.0 293.3 654.0 296.8 650.0 300.0 C 646.0 303.2 641.0 306.2 636.0 309.0 C 631.0 311.8 625.3 314.2 620.0 317.0 C 614.7 319.8 606.7 324.3 604.0 325.8" fill="none" stroke="#000" stroke-width="1.32" stroke-linecap="round" stroke-linejoin="round" />
<path d="M 594.0 331.0 L 571.4 344.0" fill="none" stroke="#000" stroke-width="1.2" stroke-linecap="round" stroke-linejoin="round" />
<path d="M 695.5 272.3 C 692.2 274.2 680.6 280.7 676.0 284.0 C 671.4 287.3 671.0 288.7 668.0 292.0 C 665.0 295.3 662.7 300.0 658.0 304.0 C 653.3 308.0 646.3 312.3 640.0 316.0 C 633.7 319.7 631.5 320.1 620.0 326.4 C 608.5 332.7 579.0 349.4 570.8 354.0" fill="none" stroke="#000" stroke-width="1.8" stroke-linecap="round" stroke-linejoin="round" />
<path d="M 611.0 336.0 L 636.0 350.0" fill="none" stroke="#000" stroke-width="1.56" stroke-linecap="round" stroke-linejoin="round" />
<text x="639.5" y="357.5" font-size="16" font-weight="bold" >1,2</text>
<path d="M 343.4 192.4 C 340.5 195.7 331.6 206.1 326.0 212.0 C 320.4 217.9 315.3 222.3 310.0 228.0 C 304.7 233.7 299.0 240.2 294.0 246.0 C 289.0 251.8 284.7 257.0 280.0 263.0 C 275.3 269.0 270.0 276.5 266.0 282.0 C 262.0 287.5 258.8 291.7 256.0 296.0 C 253.2 300.3 251.6 303.2 249.5 307.8 C 247.4 312.3 244.7 318.5 243.4 323.5 C 242.1 328.5 241.9 333.4 241.6 337.5 C 241.3 341.6 241.6 346.2 241.6 348.0" fill="none" stroke="#000" stroke-width="1.8" stroke-linecap="round" stroke-linejoin="round" />
<path d="M 241.6 348.0 L 247.4 351.5 L 253.9 352.4 L 255.6 345.4" fill="none" stroke="#000" stroke-width="1.8" stroke-linecap="round" stroke-linejoin="round" />
<path d="M 252.1 342.8 L 253.9 352.4" fill="none" stroke="#000" stroke-width="1.2" stroke-linecap="round" stroke-linejoin="round" />
<path d="M 255.6 345.4 L 262.3 345.4" fill="none" stroke="#000" stroke-width="1.2" stroke-linecap="round" stroke-linejoin="round" />
<path d="M 343.4 192.4 C 343.5 191.1 343.5 186.8 344.3 184.9 C 345.0 183.0 346.4 181.6 347.8 180.9 C 349.1 180.1 350.1 179.7 352.1 180.2 C 354.2 180.6 357.5 182.4 360.0 183.7 C 362.5 184.9 365.8 186.9 367.0 187.5" fill="none" stroke="#000" stroke-width="1.8" stroke-linecap="round" stroke-linejoin="round" />
<path d="M 348.6 191.4 C 348.9 190.9 349.2 188.7 350.4 188.4 C 351.5 188.0 353.6 188.3 355.6 189.3 C 357.7 190.2 361.5 193.2 362.6 194.0" fill="none" stroke="#000" stroke-width="1.2" stroke-linecap="round" stroke-linejoin="round" />
<path d="M 367.0 187.5 L 362.6 194.5" fill="none" stroke="#000" stroke-width="1.8" stroke-linecap="round" stroke-linejoin="round" />
<path d="M 366.0 187.5 L 365.2 195.5" fill="none" stroke="#000" stroke-width="1.32" stroke-linecap="round" stroke-linejoin="round" />
<path d="M 366.8 188.2 L 371.0 185.8 L 372.0 195.2" fill="none" stroke="#000" stroke-width="1.44" stroke-linecap="round" stroke-linejoin="round" />
<path d="M 365.2 195.5 L 365.6 205.8 L 370.0 207.5 L 377.0 207.0 L 380.0 204.2 L 379.0 201.5 L 374.0 202.5 L 373.6 200.0 L 371.2 200.0 L 371.0 195.5" fill="none" stroke="#000" stroke-width="1.44" stroke-linecap="round" stroke-linejoin="round" />
<path d="M 368.5 196.2 L 368.8 204.5" fill="none" stroke="#000" stroke-width="1.08" stroke-linecap="round" stroke-linejoin="round" />
<path d="M 367.2 190.0 L 370.0 191.5 L 370.2 195.0" fill="none" stroke="#000" stroke-width="1.08" stroke-linecap="round" stroke-linejoin="round" />
<path d="M 362.6 194.5 C 359.9 197.0 352.9 202.8 346.0 209.4 C 339.1 215.9 329.4 226.1 321.5 233.9 C 313.6 241.6 304.0 250.6 298.8 255.8 C 293.5 260.9 291.5 263.0 290.0 264.5" fill="none" stroke="#000" stroke-width="1.8" stroke-linecap="round" stroke-linejoin="round" />
<path d="M 300.3 257.9 C 297.6 260.4 289.8 266.8 284.5 272.8 C 279.3 278.7 273.0 287.6 268.8 293.8 C 264.5 299.9 261.6 304.3 259.1 309.5 C 256.6 314.8 255.0 319.7 253.9 325.3 C 252.7 330.8 252.4 339.8 252.1 342.8" fill="none" stroke="#000" stroke-width="1.8" stroke-linecap="round" stroke-linejoin="round" />
<path d="M 302.4 259.1 C 299.7 261.6 291.9 267.9 286.6 274.0 C 281.4 280.0 275.0 289.6 270.9 295.5 C 266.7 301.4 264.1 304.5 261.8 309.5 C 259.4 314.5 257.7 319.9 256.5 325.3 C 255.3 330.6 255.0 339.1 254.8 341.9" fill="none" stroke="#000" stroke-width="1.08" stroke-linecap="round" stroke-linejoin="round" />
<path d="M 303.8 251.8 L 299.4 256.1 L 302.0 258.2" fill="none" stroke="#000" stroke-width="1.2" stroke-linecap="round" stroke-linejoin="round" />
<path d="M 369.0 196.0 C 366.2 198.5 359.0 204.3 352.0 211.0 C 345.0 217.7 335.0 228.2 327.0 236.0 C 319.0 243.8 307.8 254.3 304.0 258.0" fill="none" stroke="#000" stroke-width="0.96" stroke-linecap="round" stroke-linejoin="round" />
<path d="M 346.0 209.4 C 345.4 210.0 343.1 211.8 342.5 212.9 C 341.9 214.0 342.1 215.7 342.5 215.9 C 342.9 216.0 344.7 214.1 345.1 213.8" fill="none" stroke="#000" stroke-width="1.08" stroke-linecap="round" stroke-linejoin="round" />
<ellipse cx="355.8" cy="219.8" rx="4.6" ry="6.4" transform="rotate(15 355.8 219.8)" fill="none" stroke="#000" stroke-width="1.56"/>
<ellipse cx="359.2" cy="220.2" rx="4.2" ry="6.0" transform="rotate(15 359.2 220.2)" fill="#fff" stroke="#000" stroke-width="1.68"/>
<ellipse cx="359.6" cy="221.2" rx="1.7" ry="2.4" transform="rotate(15 359.6 221.2)" fill="none" stroke="#000" stroke-width="1.44"/>
<path d="M 365.5 211.2 L 378.0 215.6" fill="none" stroke="#000" stroke-width="1.56" stroke-linecap="round" stroke-linejoin="round" />
<path d="M 366.6 222.2 L 375.5 226.2" fill="none" stroke="#000" stroke-width="1.56" stroke-linecap="round" stroke-linejoin="round" />
<path d="M 365.5 211.2 C 365.2 211.7 364.2 212.9 364.0 214.0 C 363.8 215.1 364.1 216.6 364.5 218.0 C 364.9 219.4 366.2 221.5 366.6 222.2" fill="none" stroke="#000" stroke-width="1.32" stroke-linecap="round" stroke-linejoin="round" />
<ellipse cx="377.5" cy="220.7" rx="2.8" ry="5.0" transform="rotate(10 377.5 220.7)" fill="#fff" stroke="#000" stroke-width="1.56"/>
<ellipse cx="377.7" cy="221.2" rx="1.1" ry="1.7" transform="rotate(10 377.7 221.2)" fill="none" stroke="#000" stroke-width="1.2"/>
<path d="M 377.5 229.5 C 376.0 229.4 371.7 228.2 368.8 228.6 C 365.8 229.1 363.5 231.0 360.0 232.1 C 356.5 233.3 351.3 234.0 347.8 235.6 C 344.3 237.2 341.6 239.3 339.0 241.8 C 336.4 244.2 333.9 247.9 332.0 250.5 C 330.1 253.1 328.4 256.3 327.6 257.5" fill="none" stroke="#000" stroke-width="1.68" stroke-linecap="round" stroke-linejoin="round" />
<path d="M 374.0 226.9 C 372.8 227.0 369.5 227.2 367.0 227.8 C 364.5 228.3 362.5 229.4 359.1 230.4 C 355.8 231.4 350.5 232.2 346.9 233.9 C 343.3 235.5 340.3 237.8 337.6 240.4 C 334.9 242.9 332.6 246.3 330.6 249.1 C 328.6 251.9 326.7 255.7 325.9 257.0" fill="none" stroke="#000" stroke-width="1.08" stroke-linecap="round" stroke-linejoin="round" />
<path d="M 325.0 257.5 L 332.9 255.8 L 332.0 259.3 L 325.9 261.0 L 325.0 257.5" fill="none" stroke="#000" stroke-width="1.08" stroke-linecap="round" stroke-linejoin="round" />
<path d="M 333.8 266.3 L 349.5 257.0 L 349.2 254.4 L 351.6 254.0 L 387.1 231.6" fill="none" stroke="#000" stroke-width="1.32" stroke-linecap="round" stroke-linejoin="round" />
<path d="M 333.5 260.5 C 331.8 262.0 328.0 265.2 323.0 269.3 C 318.0 273.3 309.9 279.5 303.8 285.0 C 297.6 290.5 290.9 297.8 286.3 302.5 C 281.6 307.2 278.7 309.5 275.8 313.0 C 272.8 316.5 270.6 320.0 268.8 323.5 C 266.9 327.0 265.5 330.4 264.4 334.0 C 263.3 337.7 262.6 343.5 262.3 345.4" fill="none" stroke="#000" stroke-width="1.32" stroke-linecap="round" stroke-linejoin="round" />
<path d="M 331.8 259.6 C 330.0 261.0 326.2 264.0 321.3 268.0 C 316.3 272.0 308.1 278.1 302.0 283.6 C 295.9 289.1 289.2 296.4 284.5 301.1 C 279.8 305.8 276.9 308.1 274.0 311.6 C 271.1 315.1 268.9 318.6 267.0 322.1 C 265.1 325.6 263.7 329.2 262.6 332.6 C 261.5 336.0 260.9 341.1 260.5 342.8" fill="none" stroke="#000" stroke-width="1.08" stroke-linecap="round" stroke-linejoin="round" />
<path d="M 323.0 257.0 L 330.0 254.4 L 333.5 259.6 L 328.3 262.3 L 323.0 257.0" fill="none" stroke="#000" stroke-width="1.08" stroke-linecap="round" stroke-linejoin="round" />
<path d="M 333.5 266.6 L 350.1 257.9 L 348.4 255.3 L 351.0 254.4" fill="none" stroke="#000" stroke-width="1.32" stroke-linecap="round" stroke-linejoin="round" />
<ellipse cx="271.4" cy="306.0" rx="3.0" ry="3.9" transform="rotate(20 271.4 306.0)" fill="none" stroke="#000" stroke-width="1.32"/>
<ellipse cx="271.4" cy="306.0" rx="1.2" ry="1.6" transform="rotate(20 271.4 306.0)" fill="none" stroke="#000" stroke-width="1.08"/>
<path d="M 269.6 302.5 L 265.3 305.7" fill="none" stroke="#000" stroke-width="1.2" stroke-linecap="round" stroke-linejoin="round" />
<path d="M 265.3 305.7 C 265.1 306.1 264.1 307.7 264.4 308.6 C 264.7 309.6 266.0 311.0 267.0 311.3 C 268.0 311.5 269.9 310.1 270.5 309.9" fill="none" stroke="#000" stroke-width="1.2" stroke-linecap="round" stroke-linejoin="round" />
<path d="M 400.0 199.0 L 381.0 211.0" fill="none" stroke="#000" stroke-width="1.56" stroke-linecap="round" stroke-linejoin="round" />
<text x="401.5" y="198.5" font-size="16" font-weight="bold" >7</text>
<path d="M 332.5 295.2 C 333.8 293.9 335.9 291.2 340.1 287.6 C 344.3 284.1 352.4 278.2 357.6 273.8 C 362.9 269.4 368.7 263.9 371.4 261.3 C 374.2 258.7 372.7 258.7 374.0 258.2 C 375.2 257.6 376.6 257.1 379.0 258.2 C 381.4 259.2 386.7 262.7 388.4 264.4 C 390.1 266.2 389.3 267.0 389.0 268.8 C 388.7 270.6 388.2 271.1 386.5 275.1 C 384.8 279.1 380.9 289.4 379.0 292.7 C 377.1 295.9 376.7 294.6 375.2 294.5 C 373.7 294.4 371.5 293.4 370.2 292.0 C 368.8 290.7 367.8 288.2 367.1 286.4 C 366.3 284.6 366.4 282.1 365.8 281.4 C 365.2 280.6 363.7 280.9 363.3 282.0 C 362.9 283.0 363.5 286.0 363.3 287.6 C 363.1 289.3 363.0 290.6 362.0 292.0 C 361.1 293.5 358.4 295.7 357.6 296.4" fill="#fff" stroke="#000" stroke-width="1.8" stroke-linecap="round" stroke-linejoin="round" />
<path d="M 357.6 296.4 L 352.0 299.2 L 351.4 301.4 L 347.0 302.7 L 345.1 305.8 L 337.6 308.3" fill="none" stroke="#000" stroke-width="1.8" stroke-linecap="round" stroke-linejoin="round" />
<path d="M 337.6 308.3 C 336.8 307.7 334.1 306.0 333.2 304.6 C 332.3 303.1 332.4 301.1 332.3 299.6 C 332.2 298.0 332.5 295.9 332.5 295.2" fill="none" stroke="#000" stroke-width="1.8" stroke-linecap="round" stroke-linejoin="round" />
<path d="M 334.8 296.2 C 335.9 295.1 337.3 293.4 341.3 289.9 C 345.3 286.4 353.7 279.9 358.9 275.5 C 364.1 271.1 369.7 265.7 372.7 263.6 C 375.7 261.4 375.2 261.8 377.1 262.3 C 379.0 262.8 382.8 265.6 384.0 266.3" fill="none" stroke="#000" stroke-width="1.2" stroke-linecap="round" stroke-linejoin="round" />
<path d="M 377.1 262.5 C 376.4 264.6 373.7 271.2 372.7 275.1 C 371.7 279.0 370.7 283.4 370.8 285.8 C 370.9 288.2 372.4 288.8 373.3 289.5 C 374.3 290.3 375.4 291.5 376.5 290.2 C 377.5 288.8 378.6 285.1 379.6 281.4 C 380.6 277.6 382.2 269.9 382.7 267.6" fill="none" stroke="#000" stroke-width="1.2" stroke-linecap="round" stroke-linejoin="round" />
<path d="M 379.0 265.7 C 378.3 267.4 376.1 272.2 375.2 275.7 C 374.3 279.2 373.6 284.8 373.3 286.6" fill="none" stroke="#000" stroke-width="1.08" stroke-linecap="round" stroke-linejoin="round" />
<ellipse cx="385.2" cy="268.8" rx="1.3" ry="1.8" transform="rotate(20 385.2 268.8)" fill="none" stroke="#000" stroke-width="1.08"/>
<path d="M 311.6 320.0 L 330.9 310.4" fill="none" stroke="#000" stroke-width="1.56" stroke-linecap="round" stroke-linejoin="round" />
<text x="299.5" y="328" font-size="16" font-weight="bold" >4</text>
<path d="M 403.5 241.5 C 404.2 240.7 406.1 238.1 407.5 236.5 C 408.9 234.9 410.8 232.8 412.0 232.0 C 413.2 231.2 413.8 231.1 415.0 231.5 C 416.2 231.9 418.6 233.4 419.5 234.5 C 420.4 235.6 420.4 236.8 420.5 238.0 C 420.6 239.2 419.8 240.3 420.0 241.5 C 420.2 242.7 420.8 243.6 422.0 245.0 C 423.2 246.4 425.5 248.6 427.0 250.0 C 428.5 251.4 430.3 252.9 431.0 253.5" fill="none" stroke="#000" stroke-width="1.8" stroke-linecap="round" stroke-linejoin="round" />
<path d="M 403.5 241.5 C 403.7 242.1 403.8 243.4 404.5 245.0 C 405.2 246.6 406.4 249.0 407.5 251.0 C 408.6 253.0 410.1 255.5 411.0 257.0 C 411.9 258.5 412.7 259.5 413.0 260.0" fill="none" stroke="#000" stroke-width="1.8" stroke-linecap="round" stroke-linejoin="round" />
<path d="M 406.2 242.2 C 406.8 241.4 408.8 238.9 410.0 237.5 C 411.2 236.1 412.3 234.4 413.5 234.0 C 414.7 233.6 416.6 234.8 417.2 235.0" fill="none" stroke="#000" stroke-width="1.08" stroke-linecap="round" stroke-linejoin="round" />
<path d="M 409.0 245.0 C 409.4 245.8 410.6 248.2 411.5 250.0 C 412.4 251.8 414.0 254.6 414.5 255.5" fill="none" stroke="#000" stroke-width="1.08" stroke-linecap="round" stroke-linejoin="round" />
<path d="M 411.2 244.2 L 415.0 240.2" fill="none" stroke="#000" stroke-width="2.64" stroke-linecap="round" stroke-linejoin="round" />
<ellipse cx="420.0" cy="256.5" rx="2.6" ry="5.0" transform="rotate(-35 420.0 256.5)" fill="none" stroke="#000" stroke-width="1.44"/>
<path d="M 417.5 253.5 L 422.5 249.5" fill="none" stroke="#000" stroke-width="1.32" stroke-linecap="round" stroke-linejoin="round" />
<path d="M 423.0 260.5 L 428.0 256.5" fill="none" stroke="#000" stroke-width="1.32" stroke-linecap="round" stroke-linejoin="round" />
<path d="M 422.5 249.5 C 423.0 249.4 424.6 248.7 425.5 249.0 C 426.4 249.3 427.5 250.4 428.0 251.5 C 428.5 252.6 428.5 254.7 428.5 255.5 C 428.5 256.3 428.1 256.3 428.0 256.5" fill="none" stroke="#000" stroke-width="1.32" stroke-linecap="round" stroke-linejoin="round" />
<ellipse cx="426.2" cy="260.5" rx="1.8" ry="3.8" transform="rotate(-35 426.2 260.5)" fill="none" stroke="#000" stroke-width="1.32"/>
<path d="M 424.0 258.0 L 427.0 255.5" fill="none" stroke="#000" stroke-width="1.08" stroke-linecap="round" stroke-linejoin="round" />
<path d="M 425.5 264.0 L 430.0 260.5" fill="none" stroke="#000" stroke-width="1.2" stroke-linecap="round" stroke-linejoin="round" />
<path d="M 408.0 250.0 C 408.5 251.3 410.0 256.0 411.0 258.0 C 412.0 260.0 413.5 261.3 414.0 262.0" fill="none" stroke="#000" stroke-width="2.16" stroke-linecap="round" stroke-linejoin="round" />
<path d="M 409.0 263.0 C 408.5 264.0 407.5 267.0 406.0 269.0 C 404.5 271.0 402.0 273.2 400.0 275.0 C 398.0 276.8 395.0 279.2 394.0 280.0" fill="none" stroke="#000" stroke-width="2.04" stroke-linecap="round" stroke-linejoin="round" />
<path d="M 410.2 267.2 C 409.2 268.5 406.4 272.9 404.2 275.0 C 402.0 277.1 398.4 279.2 397.2 280.0" fill="none" stroke="#000" stroke-width="1.2" stroke-linecap="round" stroke-linejoin="round" />
<path d="M 401.2 286.6 C 400.4 286.5 397.6 285.4 396.2 286.0 C 394.8 286.6 392.8 288.7 392.6 290.0 C 392.4 291.3 393.4 292.7 395.0 294.0 C 396.6 295.3 401.2 297.3 402.5 298.0" fill="none" stroke="#000" stroke-width="1.56" stroke-linecap="round" stroke-linejoin="round" />
<path d="M 418.0 281.0 C 417.9 282.2 417.3 286.2 417.5 288.0 C 417.7 289.8 418.8 291.3 419.0 292.0" fill="none" stroke="#000" stroke-width="1.44" stroke-linecap="round" stroke-linejoin="round" />
<path d="M 441.0 272.8 C 441.1 272.3 440.8 270.3 441.5 269.6 C 442.2 268.9 443.7 268.7 445.0 268.8 C 446.3 268.9 448.7 269.1 449.5 270.0 C 450.3 270.9 449.9 273.3 450.0 274.0" fill="none" stroke="#000" stroke-width="1.68" stroke-linecap="round" stroke-linejoin="round" />
<path d="M 452.0 266.5 L 455.0 265.0" fill="none" stroke="#000" stroke-width="1.56" stroke-linecap="round" stroke-linejoin="round" />
<path d="M 449.5 270.0 L 454.0 268.8" fill="none" stroke="#000" stroke-width="1.44" stroke-linecap="round" stroke-linejoin="round" />
<path d="M 377.0 309.0 L 382.7 306.5" fill="none" stroke="#000" stroke-width="1.44" stroke-linecap="round" stroke-linejoin="round" />
<path d="M 388.4 302.0 L 395.3 298.3" fill="none" stroke="#000" stroke-width="1.44" stroke-linecap="round" stroke-linejoin="round" />
<path d="M 400.0 295.0 L 408.0 290.0" fill="none" stroke="#000" stroke-width="1.44" stroke-linecap="round" stroke-linejoin="round" />
<text x="365.3" y="317" font-size="16" font-weight="bold" >5</text>
<ellipse cx="388.5" cy="240.2" rx="2.0" ry="6.6" transform="rotate(20 388.5 240.2)" fill="none" stroke="#000" stroke-width="2.28"/>
<ellipse cx="392.7" cy="239.6" rx="2.0" ry="6.6" transform="rotate(20 392.7 239.6)" fill="none" stroke="#000" stroke-width="2.28"/>
<ellipse cx="396.9" cy="239.0" rx="2.0" ry="6.6" transform="rotate(20 396.9 239.0)" fill="none" stroke="#000" stroke-width="2.28"/>
<path d="M 399.5 234.0 C 399.9 234.1 401.9 233.7 402.2 234.5 C 402.5 235.3 401.9 237.4 401.5 239.0 C 401.1 240.6 399.8 243.2 399.5 244.0" fill="none" stroke="#000" stroke-width="1.92" stroke-linecap="round" stroke-linejoin="round" />
<path d="M 425.6 213.0 L 395.0 230.4" fill="none" stroke="#000" stroke-width="1.56" stroke-linecap="round" stroke-linejoin="round" />
<text x="426.5" y="213" font-size="16" font-weight="bold" >6</text>
<path d="M 430.0 245.0 C 429.7 244.5 428.0 242.9 428.0 242.0 C 428.0 241.1 429.2 239.9 430.0 239.6 C 430.8 239.3 431.5 239.1 433.0 240.0 C 434.5 240.9 436.5 244.7 439.0 245.0 C 441.5 245.3 443.5 243.7 448.0 242.0 C 452.5 240.3 460.7 237.0 466.0 235.0 C 471.3 233.0 475.3 229.5 480.0 230.0 C 484.7 230.5 490.7 236.2 494.0 238.0 C 497.3 239.8 497.0 242.8 500.0 241.0 C 503.0 239.2 508.3 231.2 512.0 227.0 C 515.7 222.8 519.8 218.2 522.0 216.0 C 524.2 213.8 524.0 214.2 525.0 214.0 C 526.0 213.8 527.2 214.3 528.0 215.0 C 528.8 215.7 529.6 217.0 529.6 218.0 C 529.6 219.0 528.8 220.8 528.0 221.0 C 527.2 221.2 525.5 219.3 525.0 219.0" fill="none" stroke="#000" stroke-width="3.36" stroke-linecap="round" stroke-linejoin="round" />
<path d="M 430.0 245.0 C 429.7 244.5 428.0 242.9 428.0 242.0 C 428.0 241.1 429.2 239.9 430.0 239.6 C 430.8 239.3 431.5 239.1 433.0 240.0 C 434.5 240.9 436.5 244.7 439.0 245.0 C 441.5 245.3 443.5 243.7 448.0 242.0 C 452.5 240.3 460.7 237.0 466.0 235.0 C 471.3 233.0 475.3 229.5 480.0 230.0 C 484.7 230.5 490.7 236.2 494.0 238.0 C 497.3 239.8 497.0 242.8 500.0 241.0 C 503.0 239.2 508.3 231.2 512.0 227.0 C 515.7 222.8 519.8 218.2 522.0 216.0 C 524.2 213.8 524.0 214.2 525.0 214.0 C 526.0 213.8 527.2 214.3 528.0 215.0 C 528.8 215.7 529.6 217.0 529.6 218.0 C 529.6 219.0 528.8 220.8 528.0 221.0 C 527.2 221.2 525.5 219.3 525.0 219.0" fill="none" stroke="#fff" stroke-width="1.08" stroke-linecap="round" stroke-linejoin="round" />
<path d="M 488.0 214.0 L 510.0 227.0" fill="none" stroke="#000" stroke-width="1.56" stroke-linecap="round" stroke-linejoin="round" />
<text x="481" y="216" font-size="16" font-weight="bold" >3</text>
<path d="M 234.2 285.5 L 249.5 294.3" fill="none" stroke="#000" stroke-width="3.6" stroke-linecap="round" stroke-linejoin="round" />
<path d="M 236.8 284.6 L 234.8 288.2" fill="none" stroke="#fff" stroke-width="0.6" stroke-linecap="round" stroke-linejoin="round" />
<path d="M 238.6 285.6 L 236.6 289.2" fill="none" stroke="#fff" stroke-width="0.6" stroke-linecap="round" stroke-linejoin="round" />
<path d="M 240.4 286.7 L 238.4 290.3" fill="none" stroke="#fff" stroke-width="0.6" stroke-linecap="round" stroke-linejoin="round" />
<path d="M 242.2 287.7 L 240.2 291.3" fill="none" stroke="#fff" stroke-width="0.6" stroke-linecap="round" stroke-linejoin="round" />
<path d="M 244.0 288.8 L 242.0 292.4" fill="none" stroke="#fff" stroke-width="0.6" stroke-linecap="round" stroke-linejoin="round" />
<path d="M 245.8 289.8 L 243.8 293.4" fill="none" stroke="#fff" stroke-width="0.6" stroke-linecap="round" stroke-linejoin="round" />
<path d="M 247.6 290.8 L 245.6 294.4" fill="none" stroke="#fff" stroke-width="0.6" stroke-linecap="round" stroke-linejoin="round" />
<path d="M 249.4 291.9 L 247.4 295.5" fill="none" stroke="#fff" stroke-width="0.6" stroke-linecap="round" stroke-linejoin="round" />
<ellipse cx="232.2" cy="285.2" rx="2.2" ry="4.6" transform="rotate(-15 232.2 285.2)" fill="#fff" stroke="#000" stroke-width="1.44"/>
<path d="M 228.8 280.0 L 232.6 280.7" fill="none" stroke="#000" stroke-width="1.32" stroke-linecap="round" stroke-linejoin="round" />
<path d="M 227.6 289.0 L 231.2 289.8" fill="none" stroke="#000" stroke-width="1.32" stroke-linecap="round" stroke-linejoin="round" />
<ellipse cx="228.5" cy="284.5" rx="2.2" ry="4.6" transform="rotate(-15 228.5 284.5)" fill="#fff" stroke="#000" stroke-width="1.56"/>
<ellipse cx="233.1" cy="285.5" rx="1.0" ry="1.8" transform="rotate(-15 233.1 285.5)" fill="none" stroke="#000" stroke-width="1.2"/>
<path d="M 213.0 295.5 L 226.0 288.5" fill="none" stroke="#000" stroke-width="1.56" stroke-linecap="round" stroke-linejoin="round" />
<text x="202" y="303" font-size="16" font-weight="bold" >8</text>
<path d="M 30.7 475.5 L 41.4 470.2 L 45.8 461.5 L 78.4 439.9 L 89.3 433.6 L 89.3 428.8 L 78.4 435.1 L 46.4 456.2 L 42.0 460.8 L 32.9 465.5 L 30.9 470.2 Z" fill="#000" stroke="#000" stroke-width="0.96" stroke-linecap="round" stroke-linejoin="round" />
<path d="M 9.8 458.3 L 13.2 447.4 L 25.1 450.8 L 30.7 463.3 L 30.1 475.5 L 18.8 472.1 Z" fill="#fff" stroke="#000" stroke-width="1.8" stroke-linecap="round" stroke-linejoin="round" />
<path d="M 12.2 458.3 L 15.1 450.4 L 23.8 452.4 L 27.9 462.1 L 26.9 470.5 L 19.1 469.2 Z" fill="none" stroke="#000" stroke-width="1.44" stroke-linecap="round" stroke-linejoin="round" />
<path d="M 12.2 458.3 L 20.1 455.2" fill="none" stroke="#000" stroke-width="1.08" stroke-linecap="round" stroke-linejoin="round" />
<path d="M 19.1 469.2 L 27.0 465.2" fill="none" stroke="#000" stroke-width="1.08" stroke-linecap="round" stroke-linejoin="round" />
<path d="M 13.2 447.4 C 13.8 447.0 15.1 445.8 16.9 444.9 C 18.8 444.0 21.7 442.6 24.5 442.0 C 27.2 441.4 31.8 441.3 33.2 441.1" fill="none" stroke="#000" stroke-width="1.68" stroke-linecap="round" stroke-linejoin="round" />
<path d="M 33.2 441.1 L 33.9 440.1 L 68.4 419.4 L 74.0 416.5 L 77.8 416.5 L 86.6 421.9 L 89.3 428.2 L 89.3 433.6" fill="none" stroke="#000" stroke-width="1.68" stroke-linecap="round" stroke-linejoin="round" />
<path d="M 25.1 450.8 L 33.9 442.6" fill="none" stroke="#000" stroke-width="1.2" stroke-linecap="round" stroke-linejoin="round" />
<path d="M 27.0 451.7 C 28.8 450.8 35.1 446.7 37.6 446.4 C 40.2 446.1 41.2 448.5 42.0 449.9 C 42.9 451.4 43.2 453.5 42.9 455.2 C 42.6 456.9 42.4 458.6 40.4 460.2 C 38.4 461.8 32.7 464.2 31.1 465.0" fill="none" stroke="#000" stroke-width="1.32" stroke-linecap="round" stroke-linejoin="round" />
<path d="M 68.4 419.8 L 70.3 421.9 L 75.3 427.6 L 78.4 439.1" fill="none" stroke="#000" stroke-width="1.32" stroke-linecap="round" stroke-linejoin="round" />
<path d="M 75.3 427.6 L 88.5 422.6" fill="none" stroke="#000" stroke-width="1.2" stroke-linecap="round" stroke-linejoin="round" />
<path d="M 70.3 421.9 L 78.4 417.5" fill="none" stroke="#000" stroke-width="1.2" stroke-linecap="round" stroke-linejoin="round" />
<path d="M 78.4 417.5 L 75.3 427.6" fill="none" stroke="#000" stroke-width="0.0" stroke-linecap="round" stroke-linejoin="round" />
<path d="M 52.0 461.0 L 52.0 615.0" fill="none" stroke="#000" stroke-width="1.68" stroke-linecap="round" stroke-linejoin="round" />
<path d="M 62.0 453.0 L 62.0 613.0" fill="none" stroke="#000" stroke-width="1.92" stroke-linecap="round" stroke-linejoin="round" />
<path d="M 54.0 461.0 L 54.0 498.0" fill="none" stroke="#000" stroke-width="0.84" stroke-linecap="round" stroke-linejoin="round" />
<path d="M 52.0 615.0 L 53.5 622.5 L 60.5 620.0 L 62.0 613.0" fill="none" stroke="#000" stroke-width="1.44" stroke-linecap="round" stroke-linejoin="round" />
<path d="M 52.5 615.0 L 60.0 612.5 L 60.5 620.0" fill="none" stroke="#000" stroke-width="1.08" stroke-linecap="round" stroke-linejoin="round" />
<path d="M 61.5 580.0 C 60.9 583.0 59.0 592.5 58.0 598.0 C 57.0 603.5 55.9 610.5 55.5 613.0" fill="none" stroke="#000" stroke-width="1.08" stroke-linecap="round" stroke-linejoin="round" />
<path d="M 81.0 528.8 L 64.5 537.5" fill="none" stroke="#000" stroke-width="1.56" stroke-linecap="round" stroke-linejoin="round" />
<text x="86.5" y="526.5" font-size="16" font-weight="bold" >12</text>
<path d="M 152.3 461.3 L 204.0 434.3 L 204.3 439.0 L 155.0 466.0 L 148.0 470.0 L 133.0 482.0 L 131.5 480.5 L 147.0 468.0 Z" fill="#000" stroke="#000" stroke-width="0.96" stroke-linecap="round" stroke-linejoin="round" />
<path d="M 108.9 463.9 C 109.7 462.5 111.2 456.5 113.8 455.4 C 116.4 454.4 121.5 455.5 124.4 457.7 C 127.2 459.9 129.9 464.9 130.9 468.7 C 131.8 472.6 131.0 478.2 130.1 480.9 C 129.1 483.6 127.8 485.7 125.2 485.0 C 122.6 484.3 117.3 480.4 114.6 476.9 C 111.9 473.4 109.9 466.0 108.9 463.9" fill="#fff" stroke="#000" stroke-width="1.8" stroke-linecap="round" stroke-linejoin="round" />
<path d="M 111.4 464.7 L 115.4 458.2 L 124.4 460.3 L 128.9 469.6 L 127.9 478.5 L 124.4 482.6 L 116.2 476.1 Z" fill="none" stroke="#000" stroke-width="1.44" stroke-linecap="round" stroke-linejoin="round" />
<path d="M 116.2 476.1 L 126.0 470.4" fill="none" stroke="#000" stroke-width="1.08" stroke-linecap="round" stroke-linejoin="round" />
<path d="M 111.4 464.7 L 115.4 462.6" fill="none" stroke="#000" stroke-width="1.08" stroke-linecap="round" stroke-linejoin="round" />
<path d="M 113.8 455.4 C 115.3 454.5 119.6 451.2 122.7 450.1 C 125.9 448.9 130.2 449.1 132.5 448.4 C 134.8 447.8 135.9 446.4 136.6 446.0" fill="none" stroke="#000" stroke-width="1.68" stroke-linecap="round" stroke-linejoin="round" />
<path d="M 136.5 446.0 L 192.0 415.0" fill="none" stroke="#000" stroke-width="1.68" stroke-linecap="round" stroke-linejoin="round" />
<path d="M 129.2 452.5 C 130.2 452.2 133.4 450.5 134.9 450.9 C 136.4 451.3 137.9 453.3 138.2 454.9 C 138.5 456.6 138.2 459.0 136.6 460.6 C 134.9 462.2 129.8 464.0 128.4 464.7" fill="none" stroke="#000" stroke-width="1.32" stroke-linecap="round" stroke-linejoin="round" />
<path d="M 136.6 460.6 C 137.5 460.2 140.6 457.9 142.2 458.2 C 143.9 458.5 145.8 460.5 146.3 462.2 C 146.9 464.0 148.1 466.4 145.5 468.7 C 142.9 471.1 133.3 474.8 130.9 476.1" fill="none" stroke="#000" stroke-width="1.32" stroke-linecap="round" stroke-linejoin="round" />
<path d="M 192.0 415.1 L 203.3 407.5 L 214.0 412.6 L 217.7 422.0 L 217.1 425.7 L 203.3 435.8" fill="none" stroke="#000" stroke-width="1.68" stroke-linecap="round" stroke-linejoin="round" />
<path d="M 203.7 436.2 L 217.1 426.4" fill="none" stroke="#000" stroke-width="2.4" stroke-linecap="round" stroke-linejoin="round" />
<path d="M 192.0 415.1 C 192.7 415.5 194.8 415.9 196.4 417.6 C 198.0 419.3 200.3 422.2 201.4 425.1 C 202.6 428.0 203.0 433.5 203.3 435.2" fill="none" stroke="#000" stroke-width="1.32" stroke-linecap="round" stroke-linejoin="round" />
<path d="M 196.4 417.6 L 205.8 411.9" fill="none" stroke="#000" stroke-width="1.2" stroke-linecap="round" stroke-linejoin="round" />
<path d="M 201.4 425.1 L 203.9 420.1 L 214.0 413.8" fill="none" stroke="#000" stroke-width="1.2" stroke-linecap="round" stroke-linejoin="round" />
<path d="M 203.9 420.1 L 207.7 428.2 L 217.1 425.1" fill="none" stroke="#000" stroke-width="1.2" stroke-linecap="round" stroke-linejoin="round" />
<path d="M 154.4 463.0 L 154.4 616.0" fill="none" stroke="#000" stroke-width="1.68" stroke-linecap="round" stroke-linejoin="round" />
<path d="M 165.0 458.0 L 165.0 614.0" fill="none" stroke="#000" stroke-width="2.64" stroke-linecap="round" stroke-linejoin="round" />
<path d="M 156.2 463.0 L 156.2 498.0" fill="none" stroke="#000" stroke-width="0.84" stroke-linecap="round" stroke-linejoin="round" />
<path d="M 154.4 616.0 L 156.0 623.5 L 163.5 621.0 L 165.0 614.0" fill="none" stroke="#000" stroke-width="1.44" stroke-linecap="round" stroke-linejoin="round" />
<path d="M 155.0 616.0 L 162.8 613.5 L 163.5 621.0" fill="none" stroke="#000" stroke-width="1.08" stroke-linecap="round" stroke-linejoin="round" />
<path d="M 164.0 580.0 C 163.4 583.0 161.5 592.5 160.5 598.0 C 159.5 603.5 158.4 610.5 158.0 613.0" fill="none" stroke="#000" stroke-width="1.08" stroke-linecap="round" stroke-linejoin="round" />
<path d="M 183.8 528.0 L 167.5 537.5" fill="none" stroke="#000" stroke-width="1.56" stroke-linecap="round" stroke-linejoin="round" />
<text x="189.5" y="526.5" font-size="16" font-weight="bold" >13</text>
<path d="M 257.9 486.5 L 262.5 487.8 L 262.0 508.1 L 261.2 555.0 L 259.2 555.0 L 258.7 508.1 Z" fill="none" stroke="#000" stroke-width="1.44" stroke-linecap="round" stroke-linejoin="round" />
<path d="M 258.2 487.3 L 258.8 508.1" fill="none" stroke="#000" stroke-width="1.68" stroke-linecap="round" stroke-linejoin="round" />
<path d="M 260.2 489.0 L 260.2 553.8" fill="none" stroke="#000" stroke-width="0.96" stroke-linecap="round" stroke-linejoin="round" />
<path d="M 247.8 557.6 L 252.8 555.0 L 268.1 555.0 L 273.1 557.6 L 272.4 563.4 L 268.1 566.4 L 252.8 566.4 L 248.3 562.9 Z" fill="#fff" stroke="#000" stroke-width="1.56" stroke-linecap="round" stroke-linejoin="round" />
<path d="M 252.8 555.0 L 253.4 558.8 L 267.6 558.8 L 268.1 555.0" fill="none" stroke="#000" stroke-width="1.08" stroke-linecap="round" stroke-linejoin="round" />
<path d="M 247.8 557.6 L 253.4 558.8" fill="none" stroke="#000" stroke-width="1.08" stroke-linecap="round" stroke-linejoin="round" />
<path d="M 273.1 557.6 L 267.6 558.8" fill="none" stroke="#000" stroke-width="1.08" stroke-linecap="round" stroke-linejoin="round" />
<ellipse cx="260.2" cy="557.1" rx="3.6" ry="1.5" transform="rotate(0 260.2 557.1)" fill="none" stroke="#000" stroke-width="1.08"/>
<path d="M 252.8 566.4 C 253.1 567.3 254.2 569.0 254.1 571.5 C 254.0 574.1 253.2 578.3 252.3 581.7 C 251.5 585.1 249.6 590.1 249.0 591.8" fill="none" stroke="#000" stroke-width="1.56" stroke-linecap="round" stroke-linejoin="round" />
<path d="M 249.0 591.8 L 249.0 614.7" fill="none" stroke="#000" stroke-width="1.56" stroke-linecap="round" stroke-linejoin="round" />
<path d="M 249.0 614.7 C 249.7 615.7 250.9 619.7 252.8 621.0 C 254.7 622.4 257.9 622.8 260.5 622.8 C 263.0 622.8 266.4 622.4 268.1 621.0 C 269.8 619.7 270.2 615.7 270.6 614.7" fill="none" stroke="#000" stroke-width="1.56" stroke-linecap="round" stroke-linejoin="round" />
<path d="M 270.6 614.7 L 270.6 591.8" fill="none" stroke="#000" stroke-width="1.56" stroke-linecap="round" stroke-linejoin="round" />
<path d="M 270.6 591.8 C 270.2 590.1 268.7 585.1 268.1 581.7 C 267.5 578.3 267.1 574.1 267.1 571.5 C 267.1 569.0 267.9 567.3 268.1 566.4" fill="none" stroke="#000" stroke-width="1.56" stroke-linecap="round" stroke-linejoin="round" />
<path d="M 259.9 567.0 L 259.9 622.3" fill="none" stroke="#000" stroke-width="1.08" stroke-linecap="round" stroke-linejoin="round" />
<path d="M 249.0 591.8 L 259.9 596.9 L 270.6 591.8" fill="none" stroke="#000" stroke-width="1.08" stroke-linecap="round" stroke-linejoin="round" />
<path d="M 255.4 567.7 C 255.6 570.0 255.9 576.8 256.6 581.7 C 257.4 586.5 259.4 594.4 259.9 596.9" fill="none" stroke="#000" stroke-width="0.96" stroke-linecap="round" stroke-linejoin="round" />
<path d="M 265.0 567.7 C 264.8 570.0 264.3 576.8 263.5 581.7 C 262.7 586.5 260.5 594.4 259.9 596.9" fill="none" stroke="#000" stroke-width="0.96" stroke-linecap="round" stroke-linejoin="round" />
<path d="M 279.5 528.9 L 264.3 537.3" fill="none" stroke="#000" stroke-width="1.56" stroke-linecap="round" stroke-linejoin="round" />
<text x="284" y="527.5" font-size="16" font-weight="bold" >14</text>
<path d="M 294 606 L 393.5 549.8 Q 399 546.8 399 553 L 399 616" fill="none" stroke="#000" stroke-width="7.2" stroke-linecap="round" stroke-linejoin="round"/>
<path d="M 294 606 L 393.5 549.8 Q 399 546.8 399 553 L 399 616" fill="none" stroke="#fff" stroke-width="4.6" stroke-linecap="round" stroke-linejoin="round"/>
<path d="M 290 605.5 L 293.5 603 L 299 603.7 L 300 608 L 297 610.5 L 291.2 609.5 Z" fill="#fff" stroke="#000" stroke-width="1.1"/>
<path d="M 293 606.5 L 298.5 605.5" stroke="#000" stroke-width="1"/>
<path d="M 424.0 567.2 L 403.8 578.5" fill="none" stroke="#000" stroke-width="1.56" stroke-linecap="round" stroke-linejoin="round" />
<text x="427" y="566.5" font-size="16" font-weight="bold" >15</text>
<path d="M 460.6 437.8 Q 458.2 436.0 460.8 434.6 L 529.2 397.1 Q 531.8 395.7 534.4 397.2 L 545.8 403.7 Q 548.4 405.2 545.8 406.7 L 476.2 446.5 Q 473.6 448.0 471.2 446.2 Z" fill="#fff" stroke="#000" stroke-width="1.2"/>
<path d="M 463.6 435.3 L 515.2 406.9" stroke="#000" stroke-width="1.0"/>
<path d="M 465.3 436.6 L 521.5 405.6" stroke="#000" stroke-width="1.0"/>
<path d="M 467.0 437.9 L 527.7 404.2" stroke="#000" stroke-width="1.0"/>
<path d="M 468.8 439.3 L 534.0 402.8" stroke="#000" stroke-width="1.0"/>
<path d="M 470.5 440.6 L 522.5 411.4" stroke="#000" stroke-width="1.0"/>
<path d="M 472.2 441.9 L 528.7 410.0" stroke="#000" stroke-width="1.0"/>
<path d="M 473.9 443.2 L 535.0 408.6" stroke="#000" stroke-width="1.0"/>
<path d="M 475.6 444.5 L 541.3 407.1" stroke="#000" stroke-width="1.0"/>
<path d="M 510.5 450.6 Q 508.0 449.0 510.6 447.5 L 547.0 425.5 Q 549.6 424.0 552.2 425.5 L 568.4 434.5 Q 571.0 436.0 568.4 437.6 L 530.9 460.6 Q 528.3 462.2 525.8 460.6 Z" fill="#fff" stroke="#000" stroke-width="1.2"/>
<path d="M 513.5 449.9 L 542.7 432.3" stroke="#000" stroke-width="1.25"/>
<path d="M 516.9 452.1 L 548.8 432.8" stroke="#000" stroke-width="1.25"/>
<path d="M 520.3 454.3 L 554.8 433.3" stroke="#000" stroke-width="1.25"/>
<path d="M 523.6 456.5 L 560.9 433.8" stroke="#000" stroke-width="1.25"/>
<path d="M 527.0 458.7 L 556.8 440.5" stroke="#000" stroke-width="1.25"/>
<path d="M 444.0 455.0 L 462.2 444.4" fill="none" stroke="#000" stroke-width="1.56" stroke-linecap="round" stroke-linejoin="round" />
<text x="419.5" y="462.5" font-size="16" font-weight="bold" >10</text>
<path d="M 497.4 468.0 L 515.2 457.4" fill="none" stroke="#000" stroke-width="1.56" stroke-linecap="round" stroke-linejoin="round" />
<text x="478" y="476.5" font-size="16" font-weight="bold" >11</text>
<text transform="translate(797,625) rotate(-90)" font-size="8.6" font-weight="bold" textLength="71" lengthAdjust="spacingAndGlyphs">1130-GET-0011-A0</text>
<text transform="translate(286.5,466.7) rotate(-47.8)" font-size="62" fill="#cdcdcd" style="fill:#cdcdcd">HobbyStore.it</text>
</svg>
</body></html>
